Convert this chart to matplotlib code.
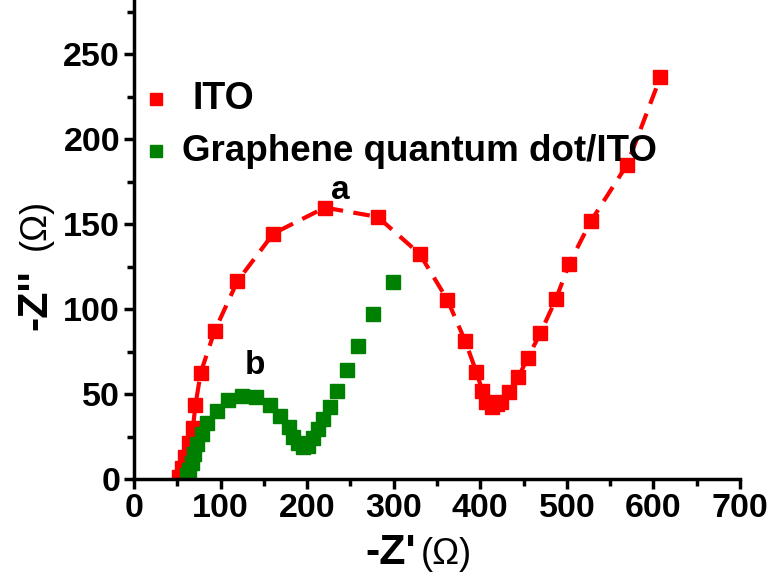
import matplotlib
matplotlib.use('Agg')
import matplotlib.pyplot as plt
from matplotlib.ticker import MultipleLocator

# ITO (red) - Nyquist plot
ito_x = [52, 55, 59, 63.5, 68, 71, 77, 93, 119.5, 161, 220.5, 281.5, 330, 362, 382.5,
         395.5, 402.5, 407, 413, 419, 424.5, 433, 444, 455, 469.5, 487.5, 502.5, 527.5,
         569.5, 608]
ito_y = [1, 6.5, 13, 21, 30, 43.5, 62.5, 87, 116.5, 144.5, 159.8, 154.3, 132.5, 105.5, 81.3,
         63, 51.8, 45.6, 42.6, 44, 45.6, 51.5, 60, 71.5, 86, 106, 126.5, 151.6,
         185, 236.5]

# Graphene quantum dot/ITO (green)
gqd_x = [61.5, 64, 66.6, 69.7, 73, 78, 84.6, 95.5, 109, 125, 141.5, 157, 168.6, 178.5,
         184, 189.7, 195.5, 201, 207, 212.8, 218.6, 226, 234.8, 246, 259, 276, 299.5]
gqd_y = [2.4, 5.3, 9.6, 14.7, 20.4, 26.5, 33, 40, 46.5, 49, 48, 43.6, 37, 30.5,
         25, 21, 19, 19.6, 24, 29.3, 35.4, 42.5, 52, 64, 78.4, 97.3, 116]

plt.rcParams['font.family'] = ['Liberation Sans', 'DejaVu Sans']
plt.rcParams['font.weight'] = 'bold'

fig = plt.figure(figsize=(7.73, 5.73), dpi=100)
ax = fig.add_axes([134 / 773, 1 - 479 / 573, 606 / 773, 479 / 573])

ax.plot(ito_x, ito_y, color='red', lw=3, ls=(0, (4, 2.5)), marker='s', ms=10,
        mec='red', mfc='red', label='ITO')
ax.plot(gqd_x, gqd_y, color='green', lw=0, marker='s', ms=10,
        mec='green', mfc='green', label='Graphene quantum dot/ITO')

ax.set_xlim(0, 700)
ax.set_ylim(0, 282)
ax.xaxis.set_major_locator(MultipleLocator(100))
ax.xaxis.set_minor_locator(MultipleLocator(50))
ax.yaxis.set_major_locator(MultipleLocator(50))
ax.yaxis.set_minor_locator(MultipleLocator(25))
ax.set_yticks([0, 50, 100, 150, 200, 250])

for s in ['top', 'right']:
    ax.spines[s].set_visible(False)
for s in ['left', 'bottom']:
    ax.spines[s].set_linewidth(2.5)
ax.tick_params(which='major', direction='out', length=7, width=2.5, labelsize=24.5, pad=3)
ax.tick_params(which='minor', direction='out', length=5, width=2.5)
for lab in ax.get_xticklabels() + ax.get_yticklabels():
    lab.set_fontweight('bold')

ax.text(238, 170, 'a', fontsize=24, fontweight='bold', ha='center', va='center')
ax.text(140, 67, 'b', fontsize=24, fontweight='bold', ha='center', va='center')

# legend
ax.plot([25], [224], 's', color='red', ms=9)
ax.text(68, 224, 'ITO', fontsize=27, fontweight='bold', va='center')
ax.plot([25], [193], 's', color='green', ms=9)
ax.text(55, 193, 'Graphene quantum dot/ITO', fontsize=26.5, fontweight='bold', va='center')

# axis labels
fig.text(416 / 773, 1 - 553 / 573, "-Z'", fontsize=31, fontweight='bold', ha='right', va='center')
fig.text(421 / 773, 1 - 555 / 573, "(Ω)", fontsize=26, fontweight='normal', ha='left', va='center')
fig.text(35 / 773, 1 - 300 / 573, "-Z''", fontsize=31, fontweight='bold', rotation=90,
         ha='center', va='center')
fig.text(35 / 773, 1 - 224 / 573, "(Ω)", fontsize=26, fontweight='normal', rotation=90,
         ha='center', va='center')

fig.savefig('out.png', dpi=100)
